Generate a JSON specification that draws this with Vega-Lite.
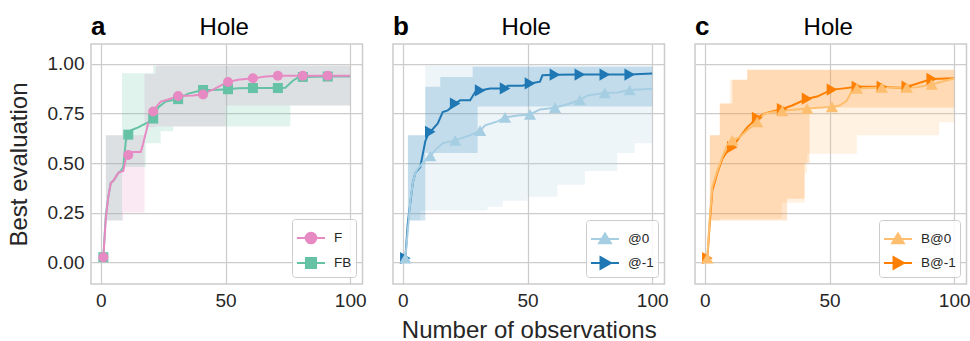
{
  "$schema": "https://vega.github.io/schema/vega-lite/v6.json",
  "padding": {"left": 6, "top": 13, "right": 0, "bottom": 0},
  "background": "white",
  "config": {
    "font": "Liberation Sans",
    "view": {"stroke": "#cccccc", "strokeWidth": 1.5},
    "axis": {"grid": true, "gridColor": "#cccccc", "gridWidth": 1.25, "domain": false, "ticks": false, "labelFontSize": 19, "labelColor": "#262626", "titleFontSize": 24, "titleFontWeight": "normal", "titleColor": "#262626", "labelPadding": 7, "titlePadding": 8},
    "axisY": {"titlePadding": 16},
    "legend": {"labelFontSize": 13.5, "labelColor": "#262626", "padding": 4, "strokeColor": "#cccccc", "cornerRadius": 3, "fillColor": "rgba(255,255,255,0.85)", "rowPadding": -10, "labelOffset": 8, "symbolSize": 784, "symbolOpacity": 1, "symbolStrokeWidth": 2, "offset": 7, "orient": "bottom-right", "title": null},
    "concat": {"spacing": 25}
  },
  "datasets": {
    "panels": [
      {"panel": "a", "label": "a", "title": "Hole"},
      {"panel": "b", "label": "b", "title": "Hole"},
      {"panel": "c", "label": "c", "title": "Hole"}
    ],
    "bands": [
      {"panel": "a", "series": "F", "x": 1, "lo": 0.02, "hi": 0.03},
      {"panel": "a", "series": "F", "x": 2, "lo": 0.21, "hi": 0.64},
      {"panel": "a", "series": "F", "x": 9, "lo": 0.25, "hi": 0.64},
      {"panel": "a", "series": "F", "x": 17.5, "lo": 0.68, "hi": 0.95},
      {"panel": "a", "series": "F", "x": 22, "lo": 0.684, "hi": 0.99},
      {"panel": "a", "series": "F", "x": 50, "lo": 0.79, "hi": 0.99},
      {"panel": "a", "series": "F", "x": 100, "lo": 0.79, "hi": 0.99},
      {"panel": "a", "series": "FB", "x": 1, "lo": 0.02, "hi": 0.03},
      {"panel": "a", "series": "FB", "x": 2, "lo": 0.21, "hi": 0.64},
      {"panel": "a", "series": "FB", "x": 8.5, "lo": 0.48, "hi": 0.953},
      {"panel": "a", "series": "FB", "x": 18, "lo": 0.6, "hi": 0.953},
      {"panel": "a", "series": "FB", "x": 21, "lo": 0.6, "hi": 0.99},
      {"panel": "a", "series": "FB", "x": 24, "lo": 0.66, "hi": 0.99},
      {"panel": "a", "series": "FB", "x": 29, "lo": 0.684, "hi": 0.99},
      {"panel": "a", "series": "FB", "x": 76, "lo": 0.79, "hi": 0.99},
      {"panel": "a", "series": "FB", "x": 100, "lo": 0.79, "hi": 0.99},
      {"panel": "b", "series": "@0", "x": 1, "lo": 0.02, "hi": 0.03},
      {"panel": "b", "series": "@0", "x": 2, "lo": 0.21, "hi": 0.64},
      {"panel": "b", "series": "@0", "x": 7, "lo": 0.26, "hi": 0.64},
      {"panel": "b", "series": "@0", "x": 9, "lo": 0.26, "hi": 0.99},
      {"panel": "b", "series": "@0", "x": 34, "lo": 0.28, "hi": 0.99},
      {"panel": "b", "series": "@0", "x": 40, "lo": 0.31, "hi": 0.99},
      {"panel": "b", "series": "@0", "x": 50, "lo": 0.33, "hi": 0.99},
      {"panel": "b", "series": "@0", "x": 62, "lo": 0.39, "hi": 0.99},
      {"panel": "b", "series": "@0", "x": 73, "lo": 0.46, "hi": 0.99},
      {"panel": "b", "series": "@0", "x": 86, "lo": 0.55, "hi": 0.99},
      {"panel": "b", "series": "@0", "x": 93, "lo": 0.6, "hi": 0.99},
      {"panel": "b", "series": "@0", "x": 100, "lo": 0.6, "hi": 0.99},
      {"panel": "b", "series": "@-1", "x": 1, "lo": 0.02, "hi": 0.03},
      {"panel": "b", "series": "@-1", "x": 2, "lo": 0.21, "hi": 0.64},
      {"panel": "b", "series": "@-1", "x": 9, "lo": 0.55, "hi": 0.884},
      {"panel": "b", "series": "@-1", "x": 15, "lo": 0.55, "hi": 0.934},
      {"panel": "b", "series": "@-1", "x": 28, "lo": 0.55, "hi": 0.985},
      {"panel": "b", "series": "@-1", "x": 30, "lo": 0.785, "hi": 0.985},
      {"panel": "b", "series": "@-1", "x": 100, "lo": 0.785, "hi": 0.985},
      {"panel": "c", "series": "B@0", "x": 1, "lo": 0.02, "hi": 0.03},
      {"panel": "c", "series": "B@0", "x": 2, "lo": 0.21, "hi": 0.64},
      {"panel": "c", "series": "B@0", "x": 6, "lo": 0.22, "hi": 0.8},
      {"panel": "c", "series": "B@0", "x": 10, "lo": 0.22, "hi": 0.92},
      {"panel": "c", "series": "B@0", "x": 17, "lo": 0.22, "hi": 0.97},
      {"panel": "c", "series": "B@0", "x": 31, "lo": 0.3, "hi": 0.97},
      {"panel": "c", "series": "B@0", "x": 40, "lo": 0.45, "hi": 0.97},
      {"panel": "c", "series": "B@0", "x": 41, "lo": 0.547, "hi": 0.97},
      {"panel": "c", "series": "B@0", "x": 61, "lo": 0.64, "hi": 0.97},
      {"panel": "c", "series": "B@0", "x": 94, "lo": 0.705, "hi": 0.97},
      {"panel": "c", "series": "B@0", "x": 100, "lo": 0.705, "hi": 0.97},
      {"panel": "c", "series": "B@-1", "x": 1, "lo": 0.02, "hi": 0.03},
      {"panel": "c", "series": "B@-1", "x": 2, "lo": 0.21, "hi": 0.64},
      {"panel": "c", "series": "B@-1", "x": 6, "lo": 0.21, "hi": 0.8},
      {"panel": "c", "series": "B@-1", "x": 11, "lo": 0.21, "hi": 0.92},
      {"panel": "c", "series": "B@-1", "x": 17, "lo": 0.21, "hi": 0.97},
      {"panel": "c", "series": "B@-1", "x": 33, "lo": 0.32, "hi": 0.97},
      {"panel": "c", "series": "B@-1", "x": 40, "lo": 0.5, "hi": 0.97},
      {"panel": "c", "series": "B@-1", "x": 42, "lo": 0.78, "hi": 0.97},
      {"panel": "c", "series": "B@-1", "x": 100, "lo": 0.78, "hi": 0.97}
    ],
    "lines": [
      {"panel": "a", "series": "FB", "x": 1, "y": 0.025},
      {"panel": "a", "series": "FB", "x": 2, "y": 0.24},
      {"panel": "a", "series": "FB", "x": 3, "y": 0.33},
      {"panel": "a", "series": "FB", "x": 4, "y": 0.4},
      {"panel": "a", "series": "FB", "x": 5, "y": 0.41},
      {"panel": "a", "series": "FB", "x": 6, "y": 0.43},
      {"panel": "a", "series": "FB", "x": 7, "y": 0.45},
      {"panel": "a", "series": "FB", "x": 8, "y": 0.46},
      {"panel": "a", "series": "FB", "x": 9, "y": 0.48},
      {"panel": "a", "series": "FB", "x": 10, "y": 0.61},
      {"panel": "a", "series": "FB", "x": 11, "y": 0.643},
      {"panel": "a", "series": "FB", "x": 12, "y": 0.665},
      {"panel": "a", "series": "FB", "x": 15, "y": 0.68},
      {"panel": "a", "series": "FB", "x": 18, "y": 0.7},
      {"panel": "a", "series": "FB", "x": 20, "y": 0.71},
      {"panel": "a", "series": "FB", "x": 21, "y": 0.724},
      {"panel": "a", "series": "FB", "x": 22, "y": 0.75},
      {"panel": "a", "series": "FB", "x": 23, "y": 0.78},
      {"panel": "a", "series": "FB", "x": 26, "y": 0.81},
      {"panel": "a", "series": "FB", "x": 31, "y": 0.822},
      {"panel": "a", "series": "FB", "x": 35, "y": 0.85},
      {"panel": "a", "series": "FB", "x": 41, "y": 0.868},
      {"panel": "a", "series": "FB", "x": 45, "y": 0.868},
      {"panel": "a", "series": "FB", "x": 51, "y": 0.872},
      {"panel": "a", "series": "FB", "x": 55, "y": 0.877},
      {"panel": "a", "series": "FB", "x": 61, "y": 0.878},
      {"panel": "a", "series": "FB", "x": 71, "y": 0.878},
      {"panel": "a", "series": "FB", "x": 74, "y": 0.879},
      {"panel": "a", "series": "FB", "x": 77, "y": 0.915},
      {"panel": "a", "series": "FB", "x": 79, "y": 0.93},
      {"panel": "a", "series": "FB", "x": 81, "y": 0.934},
      {"panel": "a", "series": "FB", "x": 91, "y": 0.936},
      {"panel": "a", "series": "FB", "x": 100, "y": 0.936},
      {"panel": "a", "series": "F", "x": 1, "y": 0.025},
      {"panel": "a", "series": "F", "x": 2, "y": 0.22},
      {"panel": "a", "series": "F", "x": 3, "y": 0.33},
      {"panel": "a", "series": "F", "x": 4, "y": 0.4},
      {"panel": "a", "series": "F", "x": 5, "y": 0.41},
      {"panel": "a", "series": "F", "x": 6, "y": 0.43},
      {"panel": "a", "series": "F", "x": 7, "y": 0.45},
      {"panel": "a", "series": "F", "x": 8, "y": 0.455},
      {"panel": "a", "series": "F", "x": 9, "y": 0.46},
      {"panel": "a", "series": "F", "x": 10, "y": 0.52},
      {"panel": "a", "series": "F", "x": 11, "y": 0.54},
      {"panel": "a", "series": "F", "x": 12, "y": 0.555},
      {"panel": "a", "series": "F", "x": 16, "y": 0.555},
      {"panel": "a", "series": "F", "x": 17, "y": 0.6},
      {"panel": "a", "series": "F", "x": 18, "y": 0.65},
      {"panel": "a", "series": "F", "x": 19, "y": 0.7},
      {"panel": "a", "series": "F", "x": 20, "y": 0.74},
      {"panel": "a", "series": "F", "x": 21, "y": 0.76},
      {"panel": "a", "series": "F", "x": 22, "y": 0.78},
      {"panel": "a", "series": "F", "x": 24, "y": 0.81},
      {"panel": "a", "series": "F", "x": 27, "y": 0.82},
      {"panel": "a", "series": "F", "x": 31, "y": 0.838},
      {"panel": "a", "series": "F", "x": 37, "y": 0.84},
      {"panel": "a", "series": "F", "x": 41, "y": 0.845},
      {"panel": "a", "series": "F", "x": 43, "y": 0.86},
      {"panel": "a", "series": "F", "x": 45, "y": 0.87},
      {"panel": "a", "series": "F", "x": 48, "y": 0.89},
      {"panel": "a", "series": "F", "x": 51, "y": 0.908},
      {"panel": "a", "series": "F", "x": 55, "y": 0.92},
      {"panel": "a", "series": "F", "x": 61, "y": 0.927},
      {"panel": "a", "series": "F", "x": 66, "y": 0.936},
      {"panel": "a", "series": "F", "x": 71, "y": 0.94},
      {"panel": "a", "series": "F", "x": 81, "y": 0.94},
      {"panel": "a", "series": "F", "x": 91, "y": 0.94},
      {"panel": "a", "series": "F", "x": 100, "y": 0.94},
      {"panel": "b", "series": "@-1", "x": 1, "y": 0.02},
      {"panel": "b", "series": "@-1", "x": 2, "y": 0.2},
      {"panel": "b", "series": "@-1", "x": 3, "y": 0.3},
      {"panel": "b", "series": "@-1", "x": 4, "y": 0.4},
      {"panel": "b", "series": "@-1", "x": 5, "y": 0.45},
      {"panel": "b", "series": "@-1", "x": 7, "y": 0.48},
      {"panel": "b", "series": "@-1", "x": 9, "y": 0.61},
      {"panel": "b", "series": "@-1", "x": 10, "y": 0.64},
      {"panel": "b", "series": "@-1", "x": 11, "y": 0.657},
      {"panel": "b", "series": "@-1", "x": 14, "y": 0.7},
      {"panel": "b", "series": "@-1", "x": 16, "y": 0.757},
      {"panel": "b", "series": "@-1", "x": 18, "y": 0.765},
      {"panel": "b", "series": "@-1", "x": 21, "y": 0.8},
      {"panel": "b", "series": "@-1", "x": 23, "y": 0.816},
      {"panel": "b", "series": "@-1", "x": 27, "y": 0.816},
      {"panel": "b", "series": "@-1", "x": 29, "y": 0.858},
      {"panel": "b", "series": "@-1", "x": 31, "y": 0.866},
      {"panel": "b", "series": "@-1", "x": 35, "y": 0.876},
      {"panel": "b", "series": "@-1", "x": 41, "y": 0.876},
      {"panel": "b", "series": "@-1", "x": 42, "y": 0.89},
      {"panel": "b", "series": "@-1", "x": 48, "y": 0.89},
      {"panel": "b", "series": "@-1", "x": 51, "y": 0.901},
      {"panel": "b", "series": "@-1", "x": 55, "y": 0.91},
      {"panel": "b", "series": "@-1", "x": 56, "y": 0.942},
      {"panel": "b", "series": "@-1", "x": 61, "y": 0.945},
      {"panel": "b", "series": "@-1", "x": 71, "y": 0.946},
      {"panel": "b", "series": "@-1", "x": 81, "y": 0.946},
      {"panel": "b", "series": "@-1", "x": 91, "y": 0.946},
      {"panel": "b", "series": "@-1", "x": 100, "y": 0.951},
      {"panel": "b", "series": "@0", "x": 1, "y": 0.02},
      {"panel": "b", "series": "@0", "x": 2, "y": 0.16},
      {"panel": "b", "series": "@0", "x": 3, "y": 0.31},
      {"panel": "b", "series": "@0", "x": 4, "y": 0.4},
      {"panel": "b", "series": "@0", "x": 5, "y": 0.45},
      {"panel": "b", "series": "@0", "x": 6, "y": 0.47},
      {"panel": "b", "series": "@0", "x": 8, "y": 0.5},
      {"panel": "b", "series": "@0", "x": 10, "y": 0.525},
      {"panel": "b", "series": "@0", "x": 11, "y": 0.535},
      {"panel": "b", "series": "@0", "x": 13, "y": 0.565},
      {"panel": "b", "series": "@0", "x": 16, "y": 0.6},
      {"panel": "b", "series": "@0", "x": 21, "y": 0.614},
      {"panel": "b", "series": "@0", "x": 27, "y": 0.64},
      {"panel": "b", "series": "@0", "x": 31, "y": 0.663},
      {"panel": "b", "series": "@0", "x": 33, "y": 0.69},
      {"panel": "b", "series": "@0", "x": 38, "y": 0.71},
      {"panel": "b", "series": "@0", "x": 41, "y": 0.73},
      {"panel": "b", "series": "@0", "x": 46, "y": 0.74},
      {"panel": "b", "series": "@0", "x": 51, "y": 0.745},
      {"panel": "b", "series": "@0", "x": 55, "y": 0.77},
      {"panel": "b", "series": "@0", "x": 61, "y": 0.779},
      {"panel": "b", "series": "@0", "x": 67, "y": 0.8},
      {"panel": "b", "series": "@0", "x": 71, "y": 0.818},
      {"panel": "b", "series": "@0", "x": 74, "y": 0.84},
      {"panel": "b", "series": "@0", "x": 81, "y": 0.853},
      {"panel": "b", "series": "@0", "x": 86, "y": 0.855},
      {"panel": "b", "series": "@0", "x": 91, "y": 0.868},
      {"panel": "b", "series": "@0", "x": 100, "y": 0.874},
      {"panel": "c", "series": "B@-1", "x": 1, "y": 0.02},
      {"panel": "c", "series": "B@-1", "x": 2, "y": 0.2},
      {"panel": "c", "series": "B@-1", "x": 3, "y": 0.36},
      {"panel": "c", "series": "B@-1", "x": 5, "y": 0.45},
      {"panel": "c", "series": "B@-1", "x": 7, "y": 0.52},
      {"panel": "c", "series": "B@-1", "x": 9, "y": 0.56},
      {"panel": "c", "series": "B@-1", "x": 11, "y": 0.58},
      {"panel": "c", "series": "B@-1", "x": 14, "y": 0.63},
      {"panel": "c", "series": "B@-1", "x": 17, "y": 0.68},
      {"panel": "c", "series": "B@-1", "x": 21, "y": 0.728},
      {"panel": "c", "series": "B@-1", "x": 24, "y": 0.75},
      {"panel": "c", "series": "B@-1", "x": 31, "y": 0.772},
      {"panel": "c", "series": "B@-1", "x": 35, "y": 0.79},
      {"panel": "c", "series": "B@-1", "x": 41, "y": 0.824},
      {"panel": "c", "series": "B@-1", "x": 45, "y": 0.835},
      {"panel": "c", "series": "B@-1", "x": 51, "y": 0.87},
      {"panel": "c", "series": "B@-1", "x": 55, "y": 0.875},
      {"panel": "c", "series": "B@-1", "x": 61, "y": 0.884},
      {"panel": "c", "series": "B@-1", "x": 71, "y": 0.884},
      {"panel": "c", "series": "B@-1", "x": 78, "y": 0.88},
      {"panel": "c", "series": "B@-1", "x": 81, "y": 0.885},
      {"panel": "c", "series": "B@-1", "x": 85, "y": 0.9},
      {"panel": "c", "series": "B@-1", "x": 91, "y": 0.924},
      {"panel": "c", "series": "B@-1", "x": 100, "y": 0.927},
      {"panel": "c", "series": "B@0", "x": 1, "y": 0.02},
      {"panel": "c", "series": "B@0", "x": 2, "y": 0.23},
      {"panel": "c", "series": "B@0", "x": 3, "y": 0.38},
      {"panel": "c", "series": "B@0", "x": 5, "y": 0.46},
      {"panel": "c", "series": "B@0", "x": 7, "y": 0.53},
      {"panel": "c", "series": "B@0", "x": 9, "y": 0.59},
      {"panel": "c", "series": "B@0", "x": 11, "y": 0.615},
      {"panel": "c", "series": "B@0", "x": 14, "y": 0.63},
      {"panel": "c", "series": "B@0", "x": 17, "y": 0.665},
      {"panel": "c", "series": "B@0", "x": 21, "y": 0.707},
      {"panel": "c", "series": "B@0", "x": 24, "y": 0.75},
      {"panel": "c", "series": "B@0", "x": 31, "y": 0.763},
      {"panel": "c", "series": "B@0", "x": 41, "y": 0.775},
      {"panel": "c", "series": "B@0", "x": 51, "y": 0.783},
      {"panel": "c", "series": "B@0", "x": 54, "y": 0.79},
      {"panel": "c", "series": "B@0", "x": 57, "y": 0.815},
      {"panel": "c", "series": "B@0", "x": 59, "y": 0.866},
      {"panel": "c", "series": "B@0", "x": 61, "y": 0.876},
      {"panel": "c", "series": "B@0", "x": 71, "y": 0.881},
      {"panel": "c", "series": "B@0", "x": 81, "y": 0.881},
      {"panel": "c", "series": "B@0", "x": 85, "y": 0.882},
      {"panel": "c", "series": "B@0", "x": 91, "y": 0.896},
      {"panel": "c", "series": "B@0", "x": 95, "y": 0.91},
      {"panel": "c", "series": "B@0", "x": 100, "y": 0.926}
    ]
  },
  "resolve": {"scale": {"color": "independent", "shape": "independent", "stroke": "independent", "x": "independent", "y": "independent"}, "legend": {"color": "independent", "shape": "independent", "stroke": "independent"}},
  "hconcat": [
    {
      "width": 271.5, "height": 240,
      "layer": [
        {
          "data": {"name": "bands"},
          "transform": [{"filter": "datum.panel === 'a'"}],
          "mark": {"type": "area", "interpolate": "step-after", "opacity": 0.2},
          "encoding": {
            "x": {"field": "x", "type": "quantitative", "scale": {"domain": [-3.95, 104.95], "nice": false, "zero": false}, "axis": {"values": [0, 50, 100], "title": null}},
            "y": {"field": "lo", "type": "quantitative", "scale": {"domain": [-0.11, 1.1], "nice": false, "zero": false}, "axis": {"values": [0, 0.25, 0.5, 0.75, 1], "format": ".2f", "title": "Best evaluation"}},
            "y2": {"field": "hi"},
            "color": {"field": "series", "type": "nominal", "scale": {"domain": ["F", "FB"], "range": ["#e78ac3", "#66c2a5"]}}
          }
        },
        {
          "data": {"name": "lines"},
          "transform": [{"filter": "datum.panel === 'a'"}],
          "mark": {"type": "line", "strokeWidth": 2},
          "encoding": {
            "x": {"field": "x", "type": "quantitative"},
            "y": {"field": "y", "type": "quantitative"},
            "color": {"field": "series", "type": "nominal"}
          }
        },
        {
          "data": {"name": "lines"},
          "transform": [{"filter": "datum.panel === 'a' && datum.series === 'FB' && datum.x % 10 === 1"}],
          "mark": {"type": "point", "shape": "square", "filled": true, "opacity": 1, "size": 100, "strokeWidth": 0},
          "encoding": {
            "x": {"field": "x", "type": "quantitative"},
            "y": {"field": "y", "type": "quantitative"},
            "color": {"field": "series", "type": "nominal"}
          }
        },
        {
          "data": {"name": "lines"},
          "transform": [{"filter": "datum.panel === 'a' && datum.series === 'F' && datum.x % 10 === 1"}],
          "mark": {"type": "point", "shape": "circle", "filled": true, "opacity": 1, "size": 100, "strokeWidth": 0},
          "encoding": {
            "x": {"field": "x", "type": "quantitative"},
            "y": {"field": "y", "type": "quantitative"},
            "color": {"field": "series", "type": "nominal"}
          }
        },
        {
          "data": {"name": "lines"},
          "transform": [{"filter": "datum.panel === 'none'"}],
          "mark": {"type": "point", "filled": true, "opacity": 1},
          "encoding": {
            "x": {"field": "x", "type": "quantitative"},
            "y": {"field": "y", "type": "quantitative"},
            "color": {"field": "series", "type": "nominal"},
            "stroke": {"field": "series", "type": "nominal", "scale": {"domain": ["F", "FB"], "range": ["#e78ac3", "#66c2a5"]}},
            "shape": {"field": "series", "type": "nominal", "scale": {"domain": ["F", "FB"], "range": ["M-1,0H1M0.38,0A0.38,0.38,0,1,1,-0.38,0A0.38,0.38,0,1,1,0.38,0Z", "M-1,0H1M-0.36,-0.36H0.36V0.36H-0.36Z"]}}
          }
        },
        {
          "data": {"name": "panels"},
          "transform": [{"filter": "datum.panel === 'a'"}],
          "mark": {"type": "text", "align": "left", "baseline": "alphabetic", "fontSize": 26, "fontWeight": "bold", "color": "#000000"},
          "encoding": {"x": {"datum": -3.95}, "y": {"datum": 1.145}, "text": {"field": "label"}}
        },
        {
          "data": {"name": "panels"},
          "transform": [{"filter": "datum.panel === 'a'"}],
          "mark": {"type": "text", "align": "center", "baseline": "alphabetic", "fontSize": 24, "color": "#000000"},
          "encoding": {"x": {"datum": 49.5}, "y": {"datum": 1.145}, "text": {"field": "title"}}
        }
      ]
    },
    {
      "width": 271.5, "height": 240,
      "layer": [
        {
          "data": {"name": "bands"},
          "transform": [{"filter": "datum.panel === 'b'"}],
          "mark": {"type": "area", "interpolate": "step-after", "opacity": 0.2},
          "encoding": {
            "x": {"field": "x", "type": "quantitative", "scale": {"domain": [-3.95, 104.95], "nice": false, "zero": false}, "axis": {"values": [0, 50, 100], "title": "Number of observations"}},
            "y": {"field": "lo", "type": "quantitative", "scale": {"domain": [-0.11, 1.1], "nice": false, "zero": false}, "axis": {"values": [0, 0.25, 0.5, 0.75, 1], "labels": false, "title": null}},
            "y2": {"field": "hi"},
            "color": {"field": "series", "type": "nominal", "scale": {"domain": ["@0", "@-1"], "range": ["#a6cee3", "#1f78b4"]}}
          }
        },
        {
          "data": {"name": "lines"},
          "transform": [{"filter": "datum.panel === 'b'"}],
          "mark": {"type": "line", "strokeWidth": 2},
          "encoding": {
            "x": {"field": "x", "type": "quantitative"},
            "y": {"field": "y", "type": "quantitative"},
            "color": {"field": "series", "type": "nominal"}
          }
        },
        {
          "data": {"name": "lines"},
          "transform": [{"filter": "datum.panel === 'b' && datum.series === '@-1' && datum.x % 10 === 1"}],
          "mark": {"type": "point", "shape": "triangle-right", "filled": true, "opacity": 1, "size": 150, "strokeWidth": 0},
          "encoding": {
            "x": {"field": "x", "type": "quantitative"},
            "y": {"field": "y", "type": "quantitative"},
            "color": {"field": "series", "type": "nominal"}
          }
        },
        {
          "data": {"name": "lines"},
          "transform": [{"filter": "datum.panel === 'b' && datum.series === '@0' && datum.x % 10 === 1"}],
          "mark": {"type": "point", "shape": "triangle-up", "filled": true, "opacity": 1, "size": 150, "strokeWidth": 0},
          "encoding": {
            "x": {"field": "x", "type": "quantitative"},
            "y": {"field": "y", "type": "quantitative"},
            "color": {"field": "series", "type": "nominal"}
          }
        },
        {
          "data": {"name": "lines"},
          "transform": [{"filter": "datum.panel === 'none'"}],
          "mark": {"type": "point", "filled": true, "opacity": 1},
          "encoding": {
            "x": {"field": "x", "type": "quantitative"},
            "y": {"field": "y", "type": "quantitative"},
            "color": {"field": "series", "type": "nominal"},
            "stroke": {"field": "series", "type": "nominal", "scale": {"domain": ["@0", "@-1"], "range": ["#a6cee3", "#1f78b4"]}},
            "shape": {"field": "series", "type": "nominal", "scale": {"domain": ["@0", "@-1"], "range": ["M-1,0H1M0,-0.4L0.42,0.3H-0.42Z", "M-1,0H1M-0.32,-0.42L0.42,0L-0.32,0.42Z"]}}
          }
        },
        {
          "data": {"name": "panels"},
          "transform": [{"filter": "datum.panel === 'b'"}],
          "mark": {"type": "text", "align": "left", "baseline": "alphabetic", "fontSize": 26, "fontWeight": "bold", "color": "#000000"},
          "encoding": {"x": {"datum": -3.95}, "y": {"datum": 1.145}, "text": {"field": "label"}}
        },
        {
          "data": {"name": "panels"},
          "transform": [{"filter": "datum.panel === 'b'"}],
          "mark": {"type": "text", "align": "center", "baseline": "alphabetic", "fontSize": 24, "color": "#000000"},
          "encoding": {"x": {"datum": 49.5}, "y": {"datum": 1.145}, "text": {"field": "title"}}
        }
      ]
    },
    {
      "width": 271.5, "height": 240,
      "layer": [
        {
          "data": {"name": "bands"},
          "transform": [{"filter": "datum.panel === 'c'"}],
          "mark": {"type": "area", "interpolate": "step-after", "opacity": 0.2},
          "encoding": {
            "x": {"field": "x", "type": "quantitative", "scale": {"domain": [-3.95, 104.95], "nice": false, "zero": false}, "axis": {"values": [0, 50, 100], "title": null}},
            "y": {"field": "lo", "type": "quantitative", "scale": {"domain": [-0.11, 1.1], "nice": false, "zero": false}, "axis": {"values": [0, 0.25, 0.5, 0.75, 1], "labels": false, "title": null}},
            "y2": {"field": "hi"},
            "color": {"field": "series", "type": "nominal", "scale": {"domain": ["B@0", "B@-1"], "range": ["#fdbf6f", "#ff7f00"]}}
          }
        },
        {
          "data": {"name": "lines"},
          "transform": [{"filter": "datum.panel === 'c'"}],
          "mark": {"type": "line", "strokeWidth": 2},
          "encoding": {
            "x": {"field": "x", "type": "quantitative"},
            "y": {"field": "y", "type": "quantitative"},
            "color": {"field": "series", "type": "nominal"}
          }
        },
        {
          "data": {"name": "lines"},
          "transform": [{"filter": "datum.panel === 'c' && datum.series === 'B@-1' && datum.x % 10 === 1"}],
          "mark": {"type": "point", "shape": "triangle-right", "filled": true, "opacity": 1, "size": 150, "strokeWidth": 0},
          "encoding": {
            "x": {"field": "x", "type": "quantitative"},
            "y": {"field": "y", "type": "quantitative"},
            "color": {"field": "series", "type": "nominal"}
          }
        },
        {
          "data": {"name": "lines"},
          "transform": [{"filter": "datum.panel === 'c' && datum.series === 'B@0' && datum.x % 10 === 1"}],
          "mark": {"type": "point", "shape": "triangle-up", "filled": true, "opacity": 1, "size": 150, "strokeWidth": 0},
          "encoding": {
            "x": {"field": "x", "type": "quantitative"},
            "y": {"field": "y", "type": "quantitative"},
            "color": {"field": "series", "type": "nominal"}
          }
        },
        {
          "data": {"name": "lines"},
          "transform": [{"filter": "datum.panel === 'none'"}],
          "mark": {"type": "point", "filled": true, "opacity": 1},
          "encoding": {
            "x": {"field": "x", "type": "quantitative"},
            "y": {"field": "y", "type": "quantitative"},
            "color": {"field": "series", "type": "nominal"},
            "stroke": {"field": "series", "type": "nominal", "scale": {"domain": ["B@0", "B@-1"], "range": ["#fdbf6f", "#ff7f00"]}},
            "shape": {"field": "series", "type": "nominal", "scale": {"domain": ["B@0", "B@-1"], "range": ["M-1,0H1M0,-0.4L0.42,0.3H-0.42Z", "M-1,0H1M-0.32,-0.42L0.42,0L-0.32,0.42Z"]}}
          }
        },
        {
          "data": {"name": "panels"},
          "transform": [{"filter": "datum.panel === 'c'"}],
          "mark": {"type": "text", "align": "left", "baseline": "alphabetic", "fontSize": 26, "fontWeight": "bold", "color": "#000000"},
          "encoding": {"x": {"datum": -3.95}, "y": {"datum": 1.145}, "text": {"field": "label"}}
        },
        {
          "data": {"name": "panels"},
          "transform": [{"filter": "datum.panel === 'c'"}],
          "mark": {"type": "text", "align": "center", "baseline": "alphabetic", "fontSize": 24, "color": "#000000"},
          "encoding": {"x": {"datum": 49.5}, "y": {"datum": 1.145}, "text": {"field": "title"}}
        }
      ]
    }
  ]
}
